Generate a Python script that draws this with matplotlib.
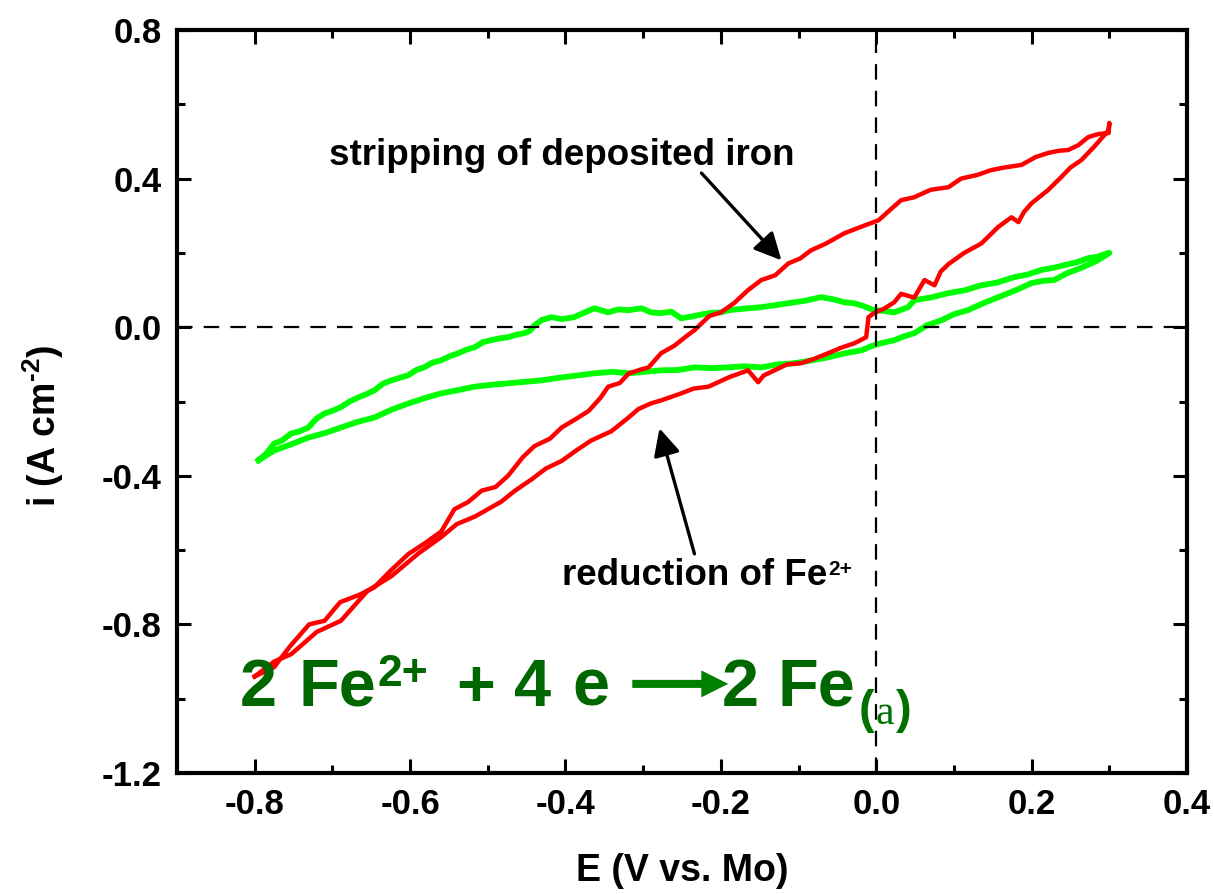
import numpy as np
import matplotlib
matplotlib.use("Agg")
import matplotlib.pyplot as plt
from matplotlib.ticker import MultipleLocator

plt.rcParams['font.family'] = ['Liberation Sans', 'DejaVu Sans']
plt.rcParams['font.weight'] = 'bold'
plt.rcParams['mathtext.fontset'] = 'custom'
plt.rcParams['mathtext.bf'] = 'Liberation Sans:bold'
plt.rcParams['mathtext.rm'] = 'Liberation Sans:bold'

# red CV: forward scan (stripping branch) then reverse scan (reduction branch)
e_red_fwd = [-0.800, -0.775, -0.755, -0.73, -0.71, -0.69, -0.665, -0.646, -0.625, -0.602,
             -0.58, -0.56, -0.543, -0.525, -0.508, -0.49, -0.474, -0.455, -0.44, -0.42,
             -0.405, -0.385, -0.37, -0.355, -0.345, -0.33, -0.319, -0.305, -0.293, -0.277,
             -0.26, -0.245, -0.234, -0.215, -0.2, -0.183, -0.165, -0.148, -0.13, -0.113,
             -0.098, -0.084, -0.065, -0.041, -0.02, 0.003, 0.02, 0.032, 0.049, 0.07,
             0.093, 0.109, 0.13, 0.148, 0.165, 0.187, 0.205, 0.221, 0.235, 0.247,
             0.26, 0.273, 0.286, 0.299, 0.30]
i_red_fwd = [-0.94, -0.915, -0.86, -0.80, -0.79, -0.74, -0.72, -0.70, -0.655, -0.61,
             -0.58, -0.55, -0.49, -0.47, -0.44, -0.43, -0.40, -0.35, -0.32, -0.30,
             -0.27, -0.245, -0.225, -0.19, -0.16, -0.15, -0.125, -0.115, -0.108, -0.07,
             -0.05, -0.025, -0.008, 0.03, 0.04, 0.065, 0.10, 0.127, 0.14, 0.172,
             0.185, 0.207, 0.225, 0.253, 0.27, 0.288, 0.32, 0.342, 0.35, 0.37,
             0.377, 0.40, 0.41, 0.423, 0.43, 0.437, 0.458, 0.469, 0.475, 0.477,
             0.49, 0.512, 0.52, 0.523, 0.55]
e_red_rev = [0.30, 0.299, 0.28, 0.264, 0.25, 0.238, 0.221, 0.2, 0.19, 0.183,
             0.174, 0.157, 0.135, 0.113, 0.093, 0.083, 0.075, 0.062, 0.049, 0.04,
             0.032, 0.023, 0.01, -0.003, -0.01, -0.013, -0.028, -0.045, -0.062, -0.08,
             -0.097, -0.115, -0.131, -0.145, -0.152, -0.165, -0.19, -0.216, -0.235, -0.251,
             -0.277, -0.29, -0.306, -0.32, -0.341, -0.367, -0.385, -0.405, -0.425, -0.444,
             -0.465, -0.483, -0.50, -0.517, -0.54, -0.56, -0.59, -0.624, -0.655, -0.689,
             -0.72, -0.753, -0.775, -0.80]
i_red_rev = [0.55, 0.53, 0.485, 0.45, 0.43, 0.404, 0.369, 0.334, 0.31, 0.283,
             0.296, 0.27, 0.225, 0.20, 0.17, 0.15, 0.113, 0.127, 0.08, 0.085,
             0.09, 0.067, 0.05, 0.038, 0.027, -0.027, -0.043, -0.055, -0.07, -0.085,
             -0.097, -0.10, -0.116, -0.13, -0.148, -0.116, -0.135, -0.16, -0.165, -0.178,
             -0.197, -0.205, -0.22, -0.245, -0.28, -0.305, -0.33, -0.36, -0.38, -0.41,
             -0.44, -0.47, -0.49, -0.51, -0.53, -0.565, -0.61, -0.67, -0.71, -0.79,
             -0.82, -0.88, -0.90, -0.94]

# green CV
e_grn_fwd = [-0.795, -0.785, -0.775, -0.765, -0.753, -0.742, -0.731, -0.72, -0.71, -0.70,
             -0.689, -0.678, -0.667, -0.656, -0.646, -0.635, -0.624, -0.613, -0.602, -0.592,
             -0.582, -0.571, -0.56, -0.549, -0.538, -0.527, -0.517, -0.506, -0.496, -0.485,
             -0.474, -0.463, -0.453, -0.446, -0.44, -0.43, -0.418, -0.405, -0.389, -0.375,
             -0.363, -0.345, -0.332, -0.319, -0.302, -0.29, -0.277, -0.264, -0.251, -0.235,
             -0.216, -0.2, -0.19, -0.17, -0.148, -0.128, -0.106, -0.09, -0.071, -0.055,
             -0.041, -0.03, -0.019, -0.003, 0.01, 0.023, 0.041, 0.049, 0.07, 0.093,
             0.115, 0.135, 0.155, 0.178, 0.195, 0.212, 0.228, 0.242, 0.258, 0.273,
             0.285, 0.299]
i_grn_fwd = [-0.358, -0.34, -0.313, -0.305, -0.286, -0.28, -0.27, -0.245, -0.232, -0.225,
             -0.215, -0.20, -0.189, -0.18, -0.17, -0.152, -0.143, -0.136, -0.129, -0.115,
             -0.108, -0.095, -0.089, -0.078, -0.07, -0.06, -0.054, -0.04, -0.035, -0.03,
             -0.027, -0.02, -0.016, -0.01, 0.005, 0.02, 0.027, 0.022, 0.027, 0.04,
             0.051, 0.04, 0.048, 0.046, 0.051, 0.04, 0.038, 0.042, 0.024, 0.03,
             0.038, 0.04, 0.046, 0.05, 0.054, 0.06, 0.067, 0.072, 0.081, 0.075,
             0.067, 0.065, 0.059, 0.046, 0.044, 0.04, 0.054, 0.073, 0.08, 0.092,
             0.10, 0.113, 0.12, 0.135, 0.142, 0.154, 0.16, 0.167, 0.175, 0.186,
             0.19, 0.20]
e_grn_rev = [0.30, 0.285, 0.264, 0.245, 0.229, 0.215, 0.2, 0.18, 0.157, 0.138,
             0.118, 0.1, 0.084, 0.065, 0.049, 0.035, 0.023, 0.006, -0.005, -0.019,
             -0.04, -0.062, -0.085, -0.106, -0.127, -0.148, -0.17, -0.19, -0.212, -0.234,
             -0.255, -0.277, -0.298, -0.319, -0.34, -0.363, -0.385, -0.405, -0.431, -0.452,
             -0.474, -0.496, -0.517, -0.54, -0.56, -0.58, -0.602, -0.624, -0.646, -0.668,
             -0.689, -0.71, -0.731, -0.753, -0.775, -0.795]
i_grn_rev = [0.20, 0.18, 0.16, 0.145, 0.127, 0.125, 0.119, 0.10, 0.081, 0.065,
             0.046, 0.035, 0.019, 0.005, -0.016, -0.025, -0.035, -0.043, -0.05, -0.062,
             -0.07, -0.081, -0.09, -0.097, -0.10, -0.108, -0.105, -0.108, -0.11, -0.108,
             -0.115, -0.116, -0.12, -0.124, -0.12, -0.124, -0.13, -0.135, -0.143, -0.147,
             -0.151, -0.155, -0.16, -0.17, -0.178, -0.19, -0.205, -0.222, -0.243, -0.255,
             -0.27, -0.285, -0.297, -0.315, -0.332, -0.358]

fig = plt.figure(figsize=(12.14, 8.94), dpi=100)
ax = fig.add_axes([0.1458, 0.1353, 0.8320, 0.8311])

ax.axhline(0, color='black', lw=1.6, ls=(0, (7, 5)), zorder=4)
ax.axvline(0, color='black', lw=1.6, ls=(0, (7, 5)), zorder=4)

ax.plot(e_grn_fwd + e_grn_rev, i_grn_fwd + i_grn_rev, color='#00ff00', lw=4.2,
        solid_joinstyle='round', zorder=2)
ax.plot(e_red_fwd + e_red_rev, i_red_fwd + i_red_rev, color='#ff0000', lw=3.2,
        solid_joinstyle='round', zorder=3)

ax.set_xlim(-0.9, 0.4)
ax.set_ylim(-1.2, 0.8)
ax.xaxis.set_major_locator(MultipleLocator(0.2))
ax.xaxis.set_minor_locator(MultipleLocator(0.1))
ax.yaxis.set_major_locator(MultipleLocator(0.4))
ax.yaxis.set_minor_locator(MultipleLocator(0.2))
ax.xaxis.set_major_formatter(plt.FuncFormatter(lambda v, p: '%.1f' % v))
ax.yaxis.set_major_formatter(plt.FuncFormatter(lambda v, p: '%.1f' % v))

ax.tick_params(which='both', direction='in', top=True, right=True, width=2.2,
               labelsize=25, pad=11)
ax.tick_params(which='major', length=10)
ax.tick_params(which='minor', length=5.5)
for lab in ax.get_xticklabels() + ax.get_yticklabels():
    lab.set_fontweight('bold')
for sp in ax.spines.values():
    sp.set_linewidth(3)

ax.set_xlabel('E (V vs. Mo)', fontsize=27, fontweight='bold')
ax.set_ylabel('i (A cm$^{\\text{-2}}$)', fontsize=27, fontweight='bold')
ax.xaxis.set_label_coords(0.5, -0.1077)
ax.yaxis.set_label_coords(-0.11, 0.468)

# annotations
arrow_kw = dict(arrowstyle='-|>,head_length=0.55,head_width=0.27', color='black',
                lw=2.4, mutation_scale=30, shrinkA=0, shrinkB=0)
ax.text(-0.705, 0.4367, 'stripping of deposited iron', fontsize=26.5,
        fontweight='bold', va='baseline', ha='left')
ax.annotate('', xy=(-0.122, 0.18), xytext=(-0.225, 0.415), arrowprops=arrow_kw)
ax.annotate('', xy=(-0.279, -0.272), xytext=(-0.234, -0.61), arrowprops=arrow_kw)
ax.text(-0.405, -0.695, 'reduction of Fe', fontsize=26.5,
        fontweight='bold', va='baseline', ha='left')
ax.text(-0.062, -0.668, '2+', fontsize=15, fontweight='bold', va='baseline', ha='left')

# equation 2 Fe2+ + 4 e -> 2 Fe(a)
dg = '#006600'
eq_kw = dict(fontsize=48, fontweight='bold', color=dg, ha='left', va='baseline')
ax.text(-0.8198, -1.019, '2', **eq_kw)
ax.text(-0.7439, -1.019, 'Fe', **eq_kw)
ax.text(-0.6422, -0.965, '2+', fontsize=32, fontweight='bold', color=dg,
        ha='left', va='baseline')
ax.text(-0.5405, -1.019, '+', **eq_kw)
ax.text(-0.4659, -1.019, '4', **eq_kw)
ax.text(-0.3912, -1.019, 'e', **eq_kw)
ax.annotate('', xy=(-0.1905, -0.96), xytext=(-0.314, -0.96),
            arrowprops=dict(arrowstyle='simple,head_length=0.97,head_width=0.97,tail_width=0.29',
                            fc='#008000', ec='none', lw=0, mutation_scale=20,
                            shrinkA=0, shrinkB=0))
ax.text(-0.1995, -1.019, '2', **eq_kw)
ax.text(-0.1274, -1.019, 'Fe', **eq_kw)
ax.text(-0.0232, -1.065, '(', fontsize=34, fontweight='bold', color='#007000',
        ha='left', va='baseline')
ax.text(-0.0013, -1.067, 'a', fontsize=30, fontweight='normal', color='#007000',
        ha='left', va='baseline', family='Liberation Serif')
ax.text(0.0257, -1.065, ')', fontsize=34, fontweight='bold', color='#007000',
        ha='left', va='baseline')

fig.savefig('out.png', dpi=100)
